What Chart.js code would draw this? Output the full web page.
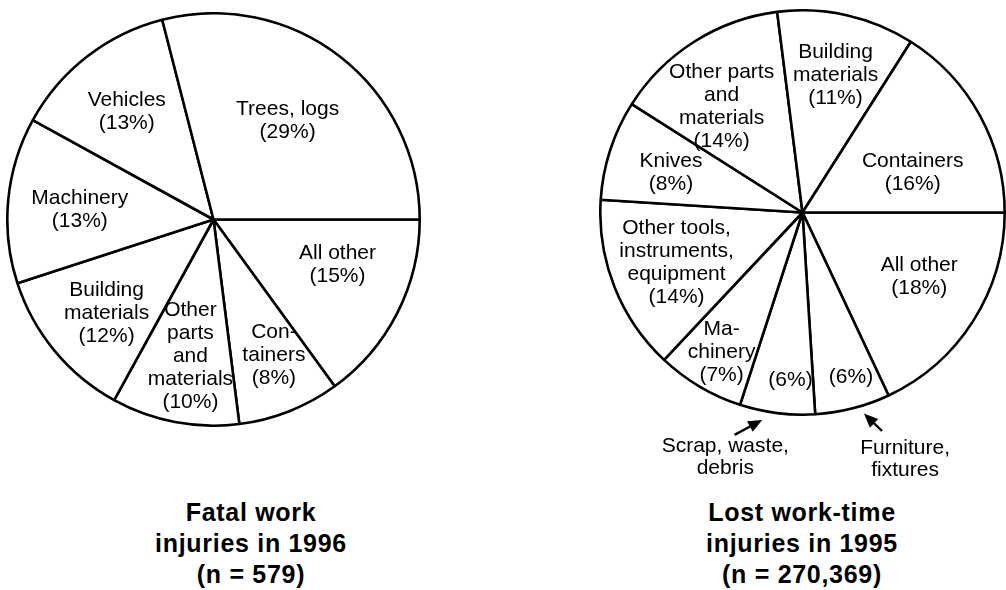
<!DOCTYPE html>
<html>
<head>
<meta charset="utf-8">
<script src="https://cdn.jsdelivr.net/npm/chart.js@4.4.0/dist/chart.umd.min.js"></script>
<style>
	body { margin:0; background:#fff; }
	#pagina { position:relative; width:1006px; height:590px; overflow:hidden; background:#fff; }
	.caixa { position:absolute; }
	.titulo { position:absolute; width:340px; text-align:center; color:#000;
		font-family:'Liberation Sans', Arial, sans-serif; font-weight:bold; font-size:25px;
		line-height:31px; letter-spacing:0.7px; }
</style>
</head>
<body>
<div id="pagina">
	<div class="caixa" style="left:6px;top:12px;"><canvas id="graficoFatal" width="415" height="415"></canvas></div>
	<div class="caixa" style="left:599px;top:9px;"><canvas id="graficoPerdido" width="407" height="480"></canvas></div>
	<div class="titulo" style="left:81px;top:497px;">Fatal work<br>injuries in 1996<br>(n = 579)</div>
	<div class="titulo" style="left:632px;top:497px;">Lost work-time<br>injuries in 1995<br>(n = 270,369)</div>
</div>
<script>
	// fatias em ordem horaria a partir das 3 horas
	var fatalCategorias = [['All other'], ['Con-', 'tainers'], ['Other', 'parts', 'and', 'materials'],
		['Building', 'materials'], ['Machinery'], ['Vehicles'], ['Trees, logs']];
	var fatalValores = [15, 8, 10, 12, 13, 13, 29];

	var perdidoCategorias = [['All other'], ['Furniture,', 'fixtures'], ['Scrap, waste,', 'debris'],
		['Ma-', 'chinery'], ['Other tools,', 'instruments,', 'equipment'], ['Knives'],
		['Other parts', 'and', 'materials'], ['Building', 'materials'], ['Containers']];
	var perdidoValores = [18, 6, 6, 7, 14, 8, 14, 11, 16];

	// [fracao do raio, desvio em graus] para cada rotulo
	var fatalPosicao = [[0.64, 7], [0.72, 2.4], [0.67, 1.2], [0.69, 1.7], [0.65, 1.4], [0.67, 1.1], [0.60, 1.0]];
	var perdidoPosicao = [[0.66, 3.4], [0.85, 2], [0.83, 3.1], [0.80, 0.6], [0.67, 0], [0.68, 1], [0.66, 4.9], [0.70, -0.9], [0.58, -8.8]];
	// rotulos fora da pizza, com seta
	var perdidoChamadas = {
		1: { texto: [1.32, 8.2], seta: [1.15, 5.6, 1.04, 2.6] },
		2: { texto: [1.27, -10.3], seta: [1.15, -9.8, 1.045, -3.8] }
	};

	function ponto(p, fr, desvio) {
		var ang = (p.startAngle + p.endAngle) / 2 - desvio * Math.PI / 180;
		var r = p.outerRadius * fr;
		return { x: p.x + r * Math.cos(ang), y: p.y + r * Math.sin(ang) };
	}

	function escreve(ctx, linhas, c, alt) {
		var y0 = c.y - (linhas.length - 1) * alt / 2;
		linhas.forEach(function(l, k){
			ctx.fillText(l, c.x, y0 + k * alt);
		});
	}

	var rotulosPlugin = {
		id: 'rotulos',
		afterDatasetsDraw: function(chart, args, opts){
			var ctx = chart.ctx;
			var meta = chart.getDatasetMeta(0);
			var dados = chart.data.datasets[0].data;
			var chamadas = opts.chamadas || {};
			ctx.save();
			ctx.font = '21px "Liberation Sans", Arial, sans-serif';
			ctx.fillStyle = '#000';
			ctx.strokeStyle = '#000';
			ctx.textAlign = 'center';
			ctx.textBaseline = 'middle';
			meta.data.forEach(function(arco, i){
				var p = arco.getProps(['x', 'y', 'startAngle', 'endAngle', 'outerRadius'], true);
				var pct = '(' + dados[i] + '%)';
				var ch = chamadas[i];
				var linhas = ch ? [pct] : chart.data.labels[i].concat([pct]);
				escreve(ctx, linhas, ponto(p, opts.posicao[i][0], opts.posicao[i][1]), 23);
				if (ch) {
					escreve(ctx, chart.data.labels[i], ponto(p, ch.texto[0], ch.texto[1]), 22);
					var a = ponto(p, ch.seta[0], ch.seta[1]);
					var b = ponto(p, ch.seta[2], ch.seta[3]);
					var ang = Math.atan2(b.y - a.y, b.x - a.x);
					ctx.lineWidth = 2.4;
					ctx.beginPath();
					ctx.moveTo(a.x, a.y);
					ctx.lineTo(b.x - 8 * Math.cos(ang), b.y - 8 * Math.sin(ang));
					ctx.stroke();
					ctx.beginPath();
					ctx.moveTo(b.x, b.y);
					ctx.lineTo(b.x - 14 * Math.cos(ang) + 6 * Math.sin(ang), b.y - 14 * Math.sin(ang) - 6 * Math.cos(ang));
					ctx.lineTo(b.x - 14 * Math.cos(ang) - 6 * Math.sin(ang), b.y - 14 * Math.sin(ang) + 6 * Math.cos(ang));
					ctx.closePath();
					ctx.fill();
				}
			});
			ctx.restore();
		}
	};

	function criaPizza(id, categorias, valores, posicao, chamadas, padding){
		var ctx = document.getElementById(id).getContext('2d');
		new Chart(ctx, {
			type: 'pie',
			data: {
				labels: categorias,
				datasets: [{
					data: valores,
					backgroundColor: '#ffffff',
					borderColor: '#000000',
					borderWidth: 2.6,
					hoverOffset: 0
				}]
			},
			options: {
				responsive: false,
				animation: false,
				events: [],
				rotation: 90,
				layout: { padding: padding },
				plugins: {
					legend: { display: false },
					tooltip: { enabled: false },
					rotulos: { posicao: posicao, chamadas: chamadas }
				}
			},
			plugins: [rotulosPlugin]
		});
	}

	criaPizza('graficoFatal', fatalCategorias, fatalValores, fatalPosicao, {}, 0);
	criaPizza('graficoPerdido', perdidoCategorias, perdidoValores, perdidoPosicao, perdidoChamadas, { bottom: 73 });
</script>
</body>
</html>
